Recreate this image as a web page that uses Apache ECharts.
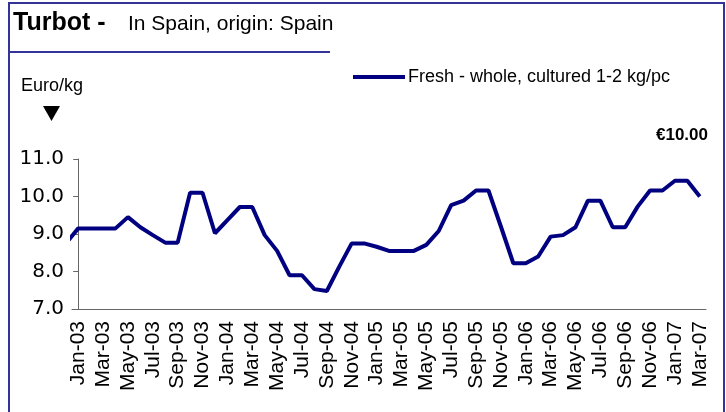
<!DOCTYPE html>
<html>
<head>
<meta charset="utf-8">
<script src="https://cdn.jsdelivr.net/npm/echarts@6/dist/echarts.min.js"></script>
<style>
  html, body { margin: 0; padding: 0; background: #fff; }
  #main { width: 726px; height: 412px; }
</style>
</head>
<body>
<div id="main"></div>
<script>
// monthly price, Jan-03 .. Mar-07
var months = [
  'Jan-03','Feb-03','Mar-03','Apr-03','May-03','Jun-03','Jul-03','Aug-03','Sep-03','Oct-03','Nov-03','Dec-03',
  'Jan-04','Feb-04','Mar-04','Apr-04','May-04','Jun-04','Jul-04','Aug-04','Sep-04','Oct-04','Nov-04','Dec-04',
  'Jan-05','Feb-05','Mar-05','Apr-05','May-05','Jun-05','Jul-05','Aug-05','Sep-05','Oct-05','Nov-05','Dec-05',
  'Jan-06','Feb-06','Mar-06','Apr-06','May-06','Jun-06','Jul-06','Aug-06','Sep-06','Oct-06','Nov-06','Dec-06',
  'Jan-07','Feb-07','Mar-07'
];
var prices = [
  9.15, 9.15, 9.15, 9.15, 9.45, 9.18, 8.97, 8.77, 8.77, 10.10, 10.10, 9.02,
  9.37, 9.72, 9.72, 8.97, 8.55, 7.90, 7.90, 7.53, 7.48, 8.13, 8.75, 8.75,
  8.66, 8.55, 8.55, 8.55, 8.71, 9.08, 9.77, 9.89, 10.16, 10.16, 9.20, 8.22,
  8.22, 8.40, 8.93, 8.97, 9.18, 9.89, 9.89, 9.18, 9.18, 9.73, 10.16, 10.16,
  10.42, 10.42, 10.00
];
var priceDec02 = 8.75; // only the clipped lead-in segment shows
var yTicks = [7, 8, 9, 10, 11];
var seriesName = 'Fresh - whole, cultured 1-2 kg/pc';

var FONT = '"Liberation Sans", Arial, sans-serif';
var BLUE = '#333399';

// line data on a hidden value axis so Dec-02 gets clipped at the plot edge
var lineData = [[-1, priceDec02]];
prices.forEach(function (v, i) { lineData.push([i, v]); });

var chart = echarts.init(document.getElementById('main'));
chart.setOption({
  backgroundColor: '#fff',
  animation: false,
  grid: { left: 72, top: 159, right: 20, bottom: 103, outerBoundsMode: 'none' },
  legend: {
    data: [seriesName],
    left: 353, top: 68,
    padding: 0,
    icon: 'rect',
    itemWidth: 52, itemHeight: 4,
    itemGap: 0,
    textStyle: { fontFamily: FONT, fontSize: 18, color: '#000', lineHeight: 18, padding: [0, 0, 0, -2] }
  },
  xAxis: [{
    type: 'category',
    data: months,
    boundaryGap: true,
    axisLine: { lineStyle: { color: '#666', width: 1 } },
    axisTick: { interval: 1, length: 5, lineStyle: { color: '#666' } },
    axisLabel: {
      interval: 1, rotate: 90, margin: 12,
      fontFamily: FONT, fontSize: 21, color: '#000'
    },
    splitLine: { show: false }
  }, {
    type: 'value',
    show: false,
    min: -0.5, max: months.length - 0.5
  }],
  yAxis: {
    type: 'value',
    min: yTicks[0], max: yTicks[yTicks.length - 1], interval: 1,
    axisLine: { show: true, lineStyle: { color: '#666', width: 1 } },
    axisTick: { show: true, length: 5, lineStyle: { color: '#666' } },
    axisLabel: {
      margin: 8, fontFamily: '"DejaVu Sans", sans-serif', fontSize: 20, color: '#000',
      formatter: function (v) { return v.toFixed(1); }
    },
    splitLine: { show: false }
  },
  series: [{
    name: seriesName,
    type: 'line',
    xAxisIndex: 1,
    data: lineData,
    showSymbol: false,
    clip: true,
    lineStyle: { color: '#000080', width: 4 },
    itemStyle: { color: '#000080' }
  }],
  graphic: [
    { type: 'rect', silent: true, shape: { x: 9, y: 3, width: 715, height: 430 },
      style: { fill: 'none', stroke: BLUE, lineWidth: 2 } },
    { type: 'line', silent: true, shape: { x1: 9, y1: 52, x2: 330, y2: 52 },
      style: { stroke: BLUE, lineWidth: 2 } },
    { type: 'text', left: 13, top: 11,
      style: { text: 'Turbot -', font: 'bold 25px ' + FONT, fill: '#000' } },
    { type: 'text', left: 128, top: 14,
      style: { text: 'In Spain, origin: Spain', font: '21px ' + FONT, fill: '#000' } },
    { type: 'text', left: 21, top: 77,
      style: { text: 'Euro/kg', font: '18px ' + FONT, fill: '#000' } },
    { type: 'polygon', silent: true, shape: { points: [[43, 106], [60, 106], [51.5, 121]] },
      style: { fill: '#000' } },
    { type: 'text', right: 18, top: 127,
      style: { text: '\u20ac' + prices[prices.length - 1].toFixed(2), font: 'bold 17px ' + FONT, fill: '#000' } }
  ]
});
</script>
</body>
</html>
